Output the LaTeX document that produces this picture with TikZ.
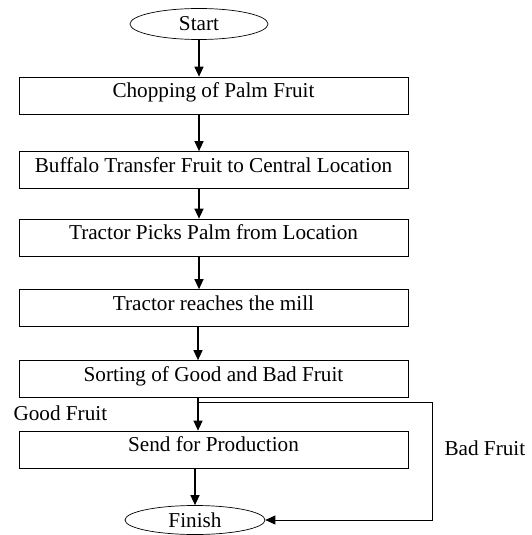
\documentclass[tikz,border=0pt]{standalone}
\usepackage{fontspec}
\setmainfont{Liberation Serif}
\usetikzlibrary{arrows.meta, shapes.geometric}
\tikzset{
  stepbox/.style={draw, line width=0.7pt, minimum width=389pt, minimum height=37pt,
    text height=13pt, text depth=9pt, inner sep=0pt},
  term/.style={draw, ellipse, line width=0.7pt, minimum width=138pt, minimum height=31pt, inner sep=0pt},
  flow/.style={line width=1.3pt, -{Triangle[length=10pt,width=9pt]}},
}
\begin{document}
\begin{tikzpicture}[x=1pt, y=-1pt, font=\fontsize{21.2}{25}\selectfont]
  \useasboundingbox (0,0) rectangle (531,535);

  \node[term] (S) at (199,24) {Start};
  \node[stepbox] (B1) at (213.5,95.5) {Chopping of Palm Fruit};
  \node[stepbox] (B2) at (213.5,170) {Buffalo Transfer Fruit to Central Location};
  \node[stepbox] (B3) at (213.5,237.5) {Tractor Picks Palm from Location};
  \node[stepbox] (B4) at (213.5,308) {Tractor reaches the mill};
  \node[stepbox] (B5) at (213.5,379) {Sorting of Good and Bad Fruit};
  \node[stepbox] (B6) at (213.5,449.5) {Send for Production};
  \node[term, minimum width=140pt, minimum height=29pt] (F) at (195,520) {Finish};

  \node[anchor=base west] (G) at (10,420) {Good Fruit};
  \node[anchor=base west] (D) at (441,455) {Bad Fruit};

  \coordinate (split) at (198,402);
  \coordinate (R) at (432,402);

  \draw[flow] (S.south) -- (B1.north -| S.south);
  \draw[flow] (B1.south -| S.south) -- (B2.north -| S.south);
  \draw[flow] (B2.south -| S.south) -- (B3.north -| S.south);
  \draw[flow] (B3.south -| S.south) -- (B4.north -| S.south);
  \draw[flow] (B4.south -| split) -- (B5.north -| split);
  \draw[flow] (B5.south -| split) -- (B6.north -| split);
  \draw[flow] (B6.south -| F.north) -- (F.north);
  \draw[line width=0.8pt, -{Triangle[length=10pt,width=9pt]}] (split) -- (R) |- (F.east);
\end{tikzpicture}
\end{document}
